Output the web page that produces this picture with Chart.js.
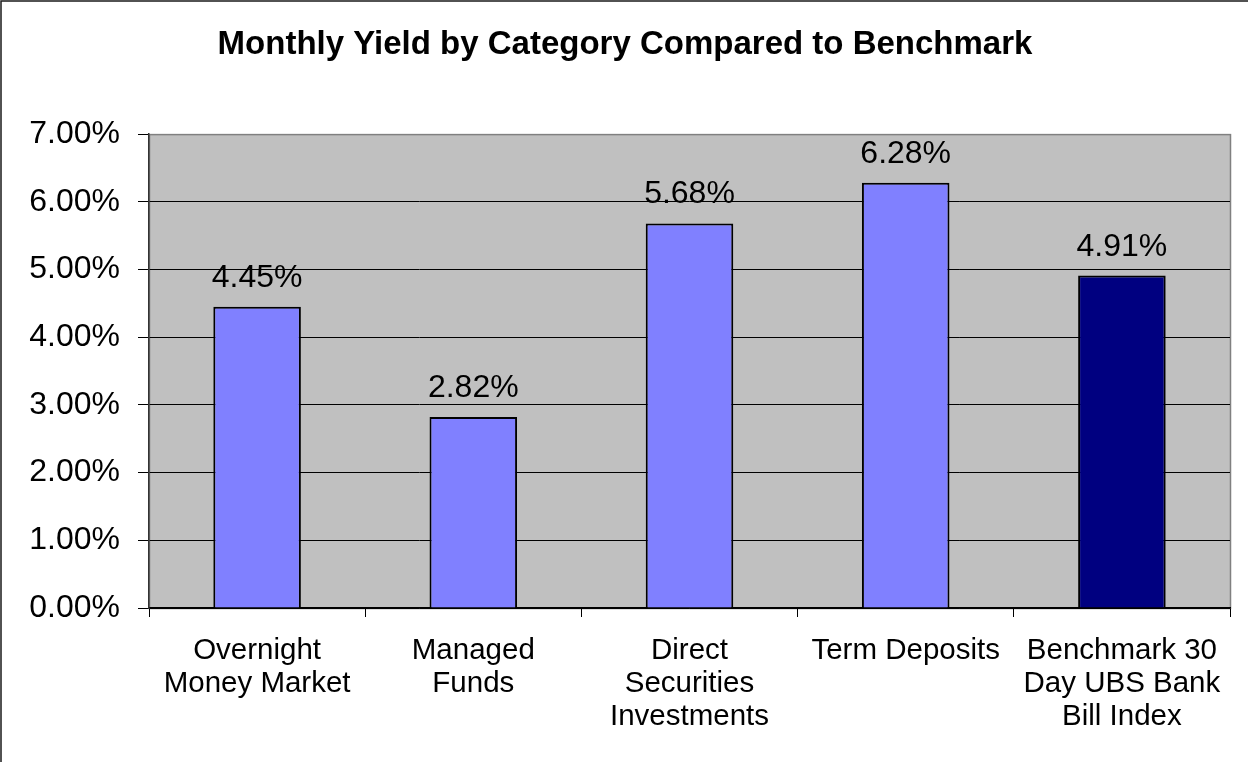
<!DOCTYPE html>
<html>
<head>
<meta charset="utf-8">
<style>
  html, body { margin: 0; padding: 0; background: #ffffff; }
  #wrap { width: 1248px; height: 762px; position: relative; }
</style>
<script src="https://cdn.jsdelivr.net/npm/chart.js@4.4.1/dist/chart.umd.min.js"></script>
</head>
<body>
<div id="wrap"><canvas id="chart" width="1248" height="762"></canvas></div>
<script>
// Categories and yields (percent)
const categories = [
  ['Overnight', 'Money Market'],
  ['Managed', 'Funds'],
  ['Direct', 'Securities', 'Investments'],
  ['Term Deposits'],
  ['Benchmark 30', 'Day UBS Bank', 'Bill Index']
];
const yields = [4.45, 2.82, 5.68, 6.28, 4.91];
const barColors = ['#8080FF', '#8080FF', '#8080FF', '#8080FF', '#000080'];
const yTicks = [0, 1, 2, 3, 4, 5, 6, 7];

const FONT = "'Liberation Sans', Arial, sans-serif";

// Grey plot area with its frame, plus the outer chart edge
const plotBackground = {
  id: 'plotBackground',
  beforeDraw(chart) {
    const { ctx, chartArea: a } = chart;
    ctx.save();
    ctx.strokeStyle = '#1a1a1a';
    ctx.lineWidth = 1.5;
    ctx.beginPath();
    ctx.moveTo(1, chart.height);
    ctx.lineTo(1, 1);
    ctx.lineTo(chart.width, 1);
    ctx.stroke();
    ctx.fillStyle = '#C0C0C0';
    ctx.fillRect(a.left, a.top, a.right - a.left, a.bottom - a.top);
    ctx.strokeStyle = '#808080';
    ctx.lineWidth = 1.5;
    ctx.strokeRect(a.left + 0.5, a.top + 0.5, a.right - a.left, a.bottom - a.top);
    ctx.restore();
  }
};

// Value labels above each bar
const valueLabels = {
  id: 'valueLabels',
  afterDatasetsDraw(chart) {
    const { ctx } = chart;
    const meta = chart.getDatasetMeta(0);
    ctx.save();
    ctx.font = '32px ' + FONT;
    ctx.fillStyle = '#000000';
    ctx.textAlign = 'center';
    ctx.textBaseline = 'alphabetic';
    meta.data.forEach((bar, i) => {
      ctx.fillText(yields[i].toFixed(2) + '%', bar.x, bar.y - 20);
    });
    ctx.restore();
  }
};

new Chart(document.getElementById('chart'), {
  type: 'bar',
  data: {
    labels: categories,
    datasets: [{
      data: yields,
      backgroundColor: barColors,
      borderColor: '#000000',
      borderWidth: 2,
      barPercentage: 0.405,
      categoryPercentage: 1.0
    }]
  },
  options: {
    responsive: false,
    animation: false,
    devicePixelRatio: 1,
    layout: { padding: { top: 0, left: 20, right: 18, bottom: 0 } },
    plugins: {
      legend: { display: false },
      tooltip: { enabled: false },
      title: {
        display: true,
        text: 'Monthly Yield by Category Compared to Benchmark',
        color: '#000000',
        font: { family: FONT, size: 33, weight: 'bold', lineHeight: 1.2 },
        padding: { top: 25, bottom: 69.5 }
      }
    },
    scales: {
      x: {
        afterFit(scale) { scale.height = 154; },
        grid: {
          offset: true,
          drawOnChartArea: false,
          drawTicks: true,
          tickLength: 9,
          tickColor: '#000000',
          color: '#000000'
        },
        border: { display: true, color: '#000000', width: 1.5 },
        ticks: {
          color: '#000000',
          padding: 17,
          maxRotation: 0,
          autoSkip: false,
          font: { family: FONT, size: 29.5, lineHeight: 1.12 }
        }
      },
      y: {
        min: yTicks[0],
        max: yTicks[yTicks.length - 1],
        afterFit(scale) { scale.width = 129; },
        afterBuildTicks(scale) { scale.ticks = yTicks.map(v => ({ value: v })); },
        grid: {
          drawTicks: true,
          tickLength: 11,
          tickColor: '#000000',
          color: ctx => (ctx.tick && ctx.tick.value === 7 ? '#808080' : '#000000'),
          lineWidth: 1
        },
        border: { display: true, color: '#333333', width: 1.5 },
        ticks: {
          color: '#000000',
          padding: 18,
          font: { family: FONT, size: 32 },
          callback: v => Number(v).toFixed(2) + '%'
        }
      }
    }
  },
  plugins: [plotBackground, valueLabels]
});
</script>
</body>
</html>
